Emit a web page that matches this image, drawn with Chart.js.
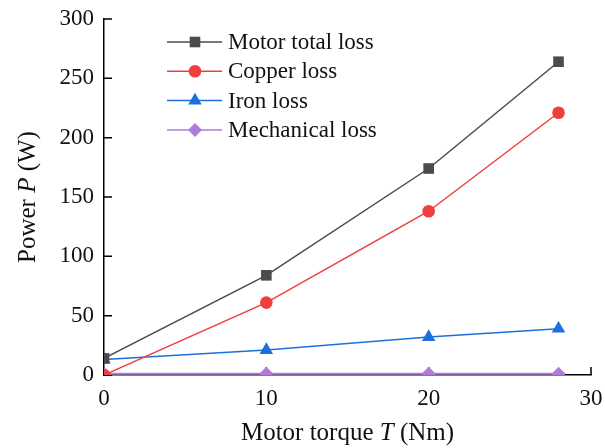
<!DOCTYPE html>
<html lang="en">
<head>
<meta charset="UTF-8">
<title>Motor loss vs torque</title>
<style>
  html, body { margin: 0; padding: 0; background: #fff; }
  #wrap { width: 605px; height: 448px; }
</style>
</head>
<body>
<div id="wrap"><canvas id="lossChart"></canvas></div>
<script src="https://cdn.jsdelivr.net/npm/chart.js"></script>
<script>
// values
const torque = [0, 10, 20, 28];
const totalLoss = [14, 84, 174, 264];
const copperLoss = [0, 61, 138, 221];
const ironLoss = [13, 21, 32, 39];
const mechLoss = [1, 1, 1, 1];
const xTicks = [0, 10, 20, 30];
const yTicks = [0, 50, 100, 150, 200, 250, 300];

const serif = "'Liberation Serif', 'Times New Roman', serif";

function pts(ys) {
    return torque.map((t, i) => ({ x: t, y: ys[i] }));
}

function series(label, ys, color, style, radius, width) {
    return {
        label: label,
        data: pts(ys),
        borderColor: color,
        backgroundColor: color,
        borderWidth: width || 1.5,
        pointStyle: style,
        pointRadius: radius,
        pointBorderWidth: 0,
        pointBackgroundColor: color,
        clip: 0,
        tension: 0
    };
}

// tick marks pointing into the plot
const inwardTicks = {
    id: 'inwardTicks',
    beforeDatasetsDraw(chart) {
        const { ctx, chartArea, scales } = chart;
        ctx.save();
        ctx.strokeStyle = '#000';
        ctx.lineWidth = 1.5;
        ctx.beginPath();
        scales.x.ticks.forEach(t => {
            const px = scales.x.getPixelForValue(t.value);
            ctx.moveTo(px, chartArea.bottom);
            ctx.lineTo(px, chartArea.bottom - 8);
        });
        scales.y.ticks.forEach(t => {
            const py = scales.y.getPixelForValue(t.value);
            ctx.moveTo(chartArea.left, py);
            ctx.lineTo(chartArea.left + 8, py);
        });
        ctx.stroke();
        ctx.restore();
    }
};

// axis titles with an italic symbol
function richText(ctx, parts, x, y, size) {
    let total = 0;
    parts.forEach(p => {
        ctx.font = (p[1] ? 'italic ' : '') + size + 'px ' + serif;
        total += ctx.measureText(p[0]).width;
    });
    let cx = x - total / 2;
    parts.forEach(p => {
        ctx.font = (p[1] ? 'italic ' : '') + size + 'px ' + serif;
        ctx.fillText(p[0], cx, y);
        cx += ctx.measureText(p[0]).width;
    });
}

const axisTitles = {
    id: 'axisTitles',
    afterDraw(chart) {
        const { ctx, chartArea } = chart;
        ctx.save();
        ctx.fillStyle = '#111';
        ctx.textBaseline = 'middle';
        ctx.textAlign = 'left';
        richText(ctx, [['Motor torque ', false], ['T', true], [' (Nm)', false]],
            (chartArea.left + chartArea.right) / 2, 433, 25);
        ctx.translate(28, (chartArea.top + chartArea.bottom) / 2);
        ctx.rotate(-Math.PI / 2);
        richText(ctx, [['Power ', false], ['P', true], [' (W)', false]], 0, 0, 25);
        ctx.restore();
    }
};

const boxLegend = {
    id: 'boxLegend',
    afterDraw(chart) {
        const { ctx, chartArea } = chart;
        const x0 = chartArea.left + 63;
        ctx.save();
        chart.data.datasets.forEach((ds, i) => {
            const y = chartArea.top + 23 + i * 29.3;
            ctx.strokeStyle = ds.borderColor;
            ctx.lineWidth = 1.5;
            ctx.beginPath();
            ctx.moveTo(x0, y);
            ctx.lineTo(x0 + 55, y);
            ctx.stroke();
            ctx.fillStyle = ds.borderColor;
            Chart.helpers.drawPoint(ctx, {
                pointStyle: ds.pointStyle, radius: ds.pointRadius, borderWidth: 0, rotation: 0
            }, x0 + 28, y);
            ctx.fillStyle = '#111';
            ctx.font = '23px ' + serif;
            ctx.textBaseline = 'middle';
            ctx.fillText(ds.label, x0 + 61, y + 1);
        });
        ctx.restore();
    }
};

new Chart(document.getElementById('lossChart'), {
    type: 'line',
    data: {
        datasets: [
            series('Motor total loss', totalLoss, '#4b4b4b', 'rect', 7.5),
            series('Copper loss', copperLoss, '#ef3e3e', 'circle', 6.3),
            series('Iron loss', ironLoss, '#1c6fdd', 'triangle', 7.8),
            series('Mechanical loss', mechLoss, '#b07cdc', 'rectRot', 7, 2)
        ]
    },
    options: {
        responsive: true,
        maintainAspectRatio: false,
        animation: false,
        events: [],
        layout: { padding: { top: 19, right: 14, left: 0, bottom: 0 } },
        plugins: {
            legend: { display: false },
            tooltip: { enabled: false }
        },
        scales: {
            x: {
                type: 'linear',
                min: 0,
                max: 30,
                afterBuildTicks: s => { s.ticks = xTicks.map(v => ({ value: v })); },
                afterFit: s => { s.height = 73; s.paddingLeft = 0; s.paddingRight = 0; },
                grid: { drawOnChartArea: false, drawTicks: false },
                border: { color: '#000', width: 1.5 },
                ticks: { color: '#111', padding: 10, font: { family: serif, size: 23 } }
            },
            y: {
                type: 'linear',
                min: 0,
                max: 300,
                afterBuildTicks: s => { s.ticks = yTicks.map(v => ({ value: v })); },
                afterFit: s => { s.width = 104; s.paddingTop = 0; s.paddingBottom = 0; },
                grid: { drawOnChartArea: false, drawTicks: false },
                border: { color: '#000', width: 1.5 },
                ticks: { color: '#111', padding: 10, font: { family: serif, size: 23 } }
            }
        }
    },
    plugins: [inwardTicks, axisTitles, boxLegend]
});
</script>
</body>
</html>
